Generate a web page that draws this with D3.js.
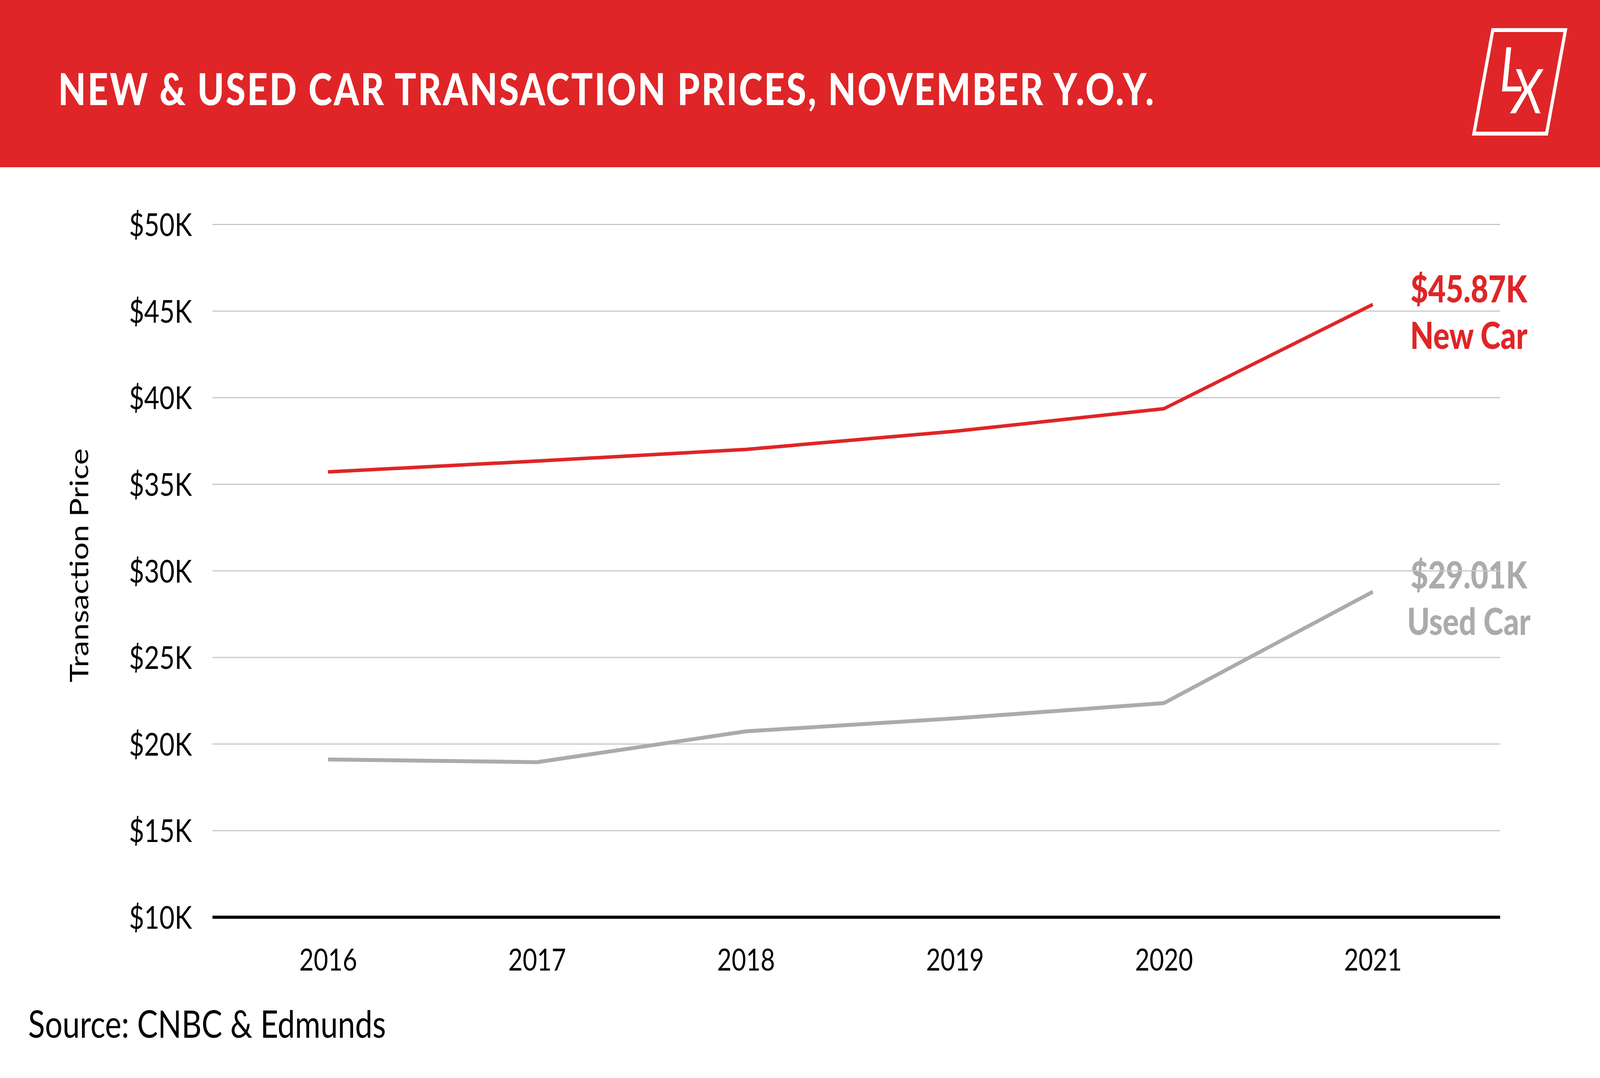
<!DOCTYPE html>
<html>
<head>
<meta charset="utf-8">
<script src="https://cdn.jsdelivr.net/npm/d3@7"></script>
<style>
  html, body { margin: 0; padding: 0; background: #fff; overflow: hidden; }
  svg { display: block; width: 100vw; height: 100vh; font-family: Lato, "Open Sans", sans-serif; }
</style>
</head>
<body>
<script>
var years = [2016, 2017, 2018, 2019, 2020, 2021];
// prices in thousands of dollars
var newCar = [35.7, 36.33, 37.0, 38.05, 39.35, 45.37];
var usedCar = [19.1, 18.94, 20.72, 21.47, 22.35, 28.78];
var yTicks = [10, 15, 20, 25, 30, 35, 40, 45, 50];

var title = 'NEW & USED CAR TRANSACTION PRICES, NOVEMBER Y.O.Y.';
var yTitle = 'Transaction Price';
var source = 'Source: CNBC & Edmunds';
var endLabels = [
    {series: 'new', value: '$45.87K', name: 'New Car'},
    {series: 'used', value: '$29.01K', name: 'Used Car'}
];

var W = 5000, H = 2759;
var red = '#df2527', grey = '#ababab';

var svg = d3.select('body').append('svg')
    .attr('viewBox', '0 0 ' + W + ' ' + H)
    .attr('preserveAspectRatio', 'none');

// header band
svg.append('rect')
    .attr('x', 0).attr('y', 0)
    .attr('width', W).attr('height', 428)
    .attr('fill', red);

svg.append('text')
    .attr('x', 182).attr('y', 269)
    .attr('fill', '#fff')
    .attr('font-size', 112)
    .attr('font-weight', 900)
    .attr('letter-spacing', 5.2)
    .text(title);

// LX logo
var logo = svg.append('g');
logo.append('polygon')
    .attr('points', '4665,77 4892,77 4833,342 4606,342')
    .attr('fill', 'none')
    .attr('stroke', '#fff')
    .attr('stroke-width', 10);
var mark = logo.append('text')
    .attr('fill', '#fff')
    .attr('font-size', 158)
    .attr('font-style', 'italic');
mark.append('tspan').attr('x', 4686).attr('y', 234).text('L');
mark.append('tspan').attr('x', 4724).attr('y', 290).text('X');

var plot = {left: 664, right: 4688, top: 574, bottom: 2347};

var x = d3.scalePoint()
    .domain(years)
    .range([1025, 4290]);

var y = d3.scaleLinear()
    .domain([10, 50])
    .range([plot.bottom, plot.top]);

// end labels (under the grid, like the original)
var labelX = 4590;
var labelY = {'new': 774, 'used': 1506};
endLabels.forEach(function (l) {
    var c = l.series == 'new' ? red : grey;
    var t = svg.append('text')
        .attr('text-anchor', 'middle')
        .attr('fill', c)
        .attr('font-size', 95)
        .attr('font-weight', 900);
    t.append('tspan').attr('x', labelX).attr('y', labelY[l.series]).text(l.value);
    t.append('tspan').attr('x', labelX).attr('y', labelY[l.series] + 119).text(l.name);
});

// y axis with grid lines
var yAxis = svg.append('g')
    .attr('transform', 'translate(' + plot.left + ',0)')
    .call(d3.axisLeft(y)
        .tickValues(yTicks)
        .tickSize(-(plot.right - plot.left))
        .tickPadding(64)
        .tickFormat(function (d) { return '$' + d + 'K'; }));
yAxis.select('.domain').remove();
yAxis.selectAll('.tick line')
    .attr('stroke', '#c8c8c8')
    .attr('stroke-width', 3);
yAxis.selectAll('.tick text')
    .attr('font-family', 'Lato, sans-serif')
    .attr('font-size', 82)
    .attr('fill', '#000')
    .attr('dy', '0.36em');
// bottom tick is the black base line
yAxis.selectAll('.tick').filter(function (d) { return d == 10; }).select('line')
    .attr('stroke', '#000')
    .attr('stroke-width', 8);

// x axis, labels only
var xAxis = svg.append('g')
    .attr('transform', 'translate(0,' + plot.bottom + ')')
    .call(d3.axisBottom(x).tickSize(0).tickPadding(82));
xAxis.select('.domain').remove();
xAxis.selectAll('.tick text')
    .attr('font-family', 'Lato, sans-serif')
    .attr('font-size', 78)
    .attr('fill', '#000');

svg.append('text')
    .attr('transform', 'translate(276,1447) rotate(-90)')
    .attr('text-anchor', 'middle')
    .attr('font-size', 80)
    .attr('fill', '#000')
    .text(yTitle);

var line = d3.line()
    .x(function (d, i) { return x(years[i]); })
    .y(function (d) { return y(d); });

svg.append('path')
    .datum(usedCar)
    .attr('d', line)
    .attr('fill', 'none')
    .attr('stroke', grey)
    .attr('stroke-width', 10);

svg.append('path')
    .datum(newCar)
    .attr('d', line)
    .attr('fill', 'none')
    .attr('stroke', red)
    .attr('stroke-width', 9);

svg.append('text')
    .attr('x', 88).attr('y', 2656)
    .attr('font-size', 97)
    .attr('fill', '#000')
    .text(source);
</script>
</body>
</html>
